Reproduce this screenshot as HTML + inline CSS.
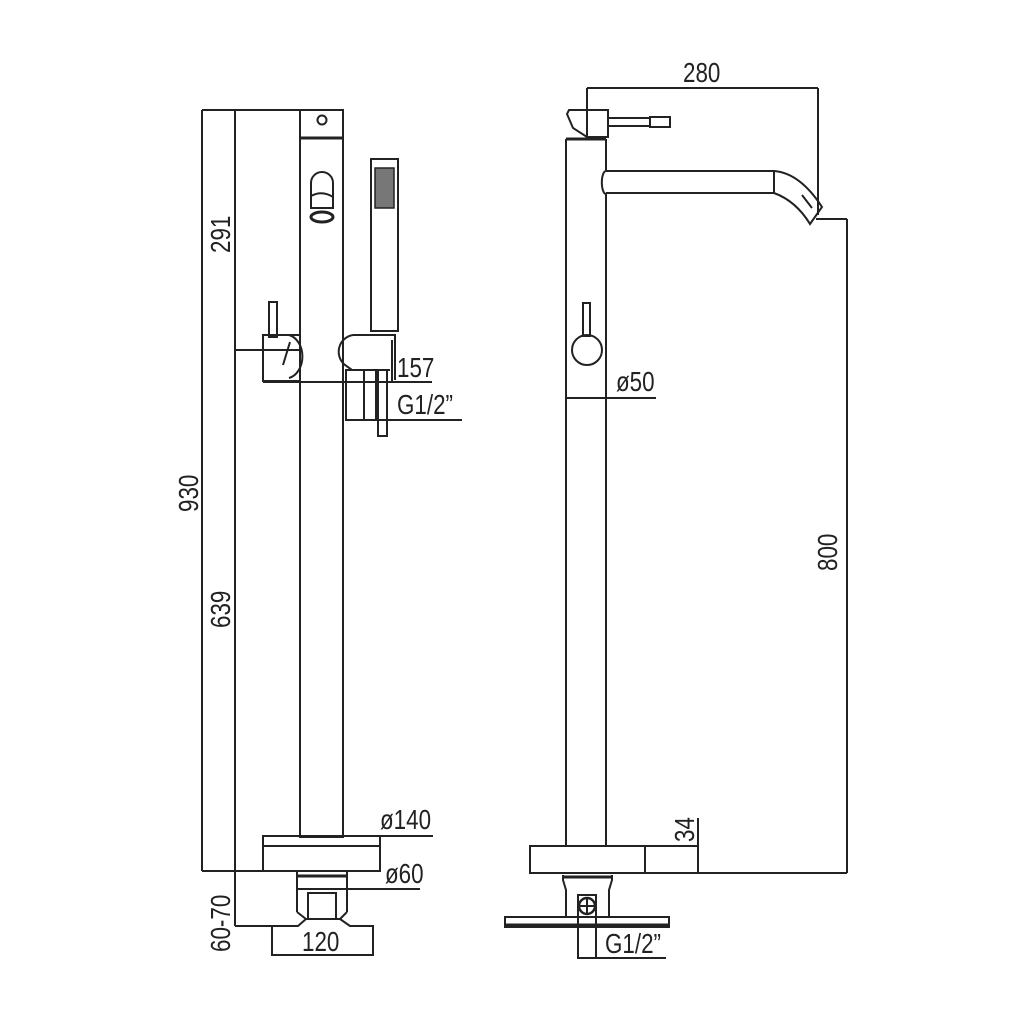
<!DOCTYPE html>
<html><head><meta charset="utf-8"><style>html,body{margin:0;padding:0;background:#fff}svg{display:block}text{fill:#222;stroke:none;font-size:28px}</style></head>
<body>
<svg width="1024" height="1024" viewBox="0 0 1024 1024" xmlns="http://www.w3.org/2000/svg" font-family="Liberation Sans, sans-serif" fill="none" stroke="#222" stroke-width="2">
<!-- LEFT VIEW dims -->
<line x1="202" y1="110" x2="343" y2="110"/>
<line x1="202" y1="110" x2="202" y2="871"/>
<line x1="235" y1="110" x2="235" y2="926"/>
<line x1="202" y1="871" x2="297" y2="871"/>
<line x1="235" y1="350" x2="300" y2="350"/>
<line x1="235" y1="926" x2="272" y2="926"/>
<!-- column -->
<rect x="300" y="110" width="43" height="727"/>
<line x1="300" y1="138" x2="343" y2="138" stroke-width="3"/>
<circle cx="322" cy="120" r="4.5"/>
<!-- spout oval -->
<path d="M311 208 V183 A11 11 0 0 1 333 183 V208 Z"/>
<path d="M311 196 Q322 190 333 197"/>
<ellipse cx="322" cy="217" rx="11" ry="5" stroke-width="3"/>
<!-- handle left -->
<rect x="269" y="302" width="8" height="35"/>
<rect x="263" y="335" width="37" height="46"/>
<path d="M289 335 A17 22 0 0 1 289 378"/>
<path d="M290 342 L283 365"/>
<!-- hand shower -->
<rect x="371" y="159" width="27" height="172"/>
<rect x="375" y="168" width="19" height="40" fill="#777" stroke-width="1.5"/>
<!-- holder -->
<path d="M353 335 H395 V380 M353 335 A17 17 0 0 0 345 365 L352 370 H390"/>
<rect x="346" y="370" width="18" height="50"/>
<rect x="364" y="370" width="12" height="50"/>
<rect x="378" y="370" width="9" height="66"/>
<line x1="263" y1="382" x2="432" y2="382"/>
<line x1="346" y1="420" x2="462" y2="420"/>
<line x1="392" y1="340" x2="392" y2="382"/>
<text transform="translate(397,377) scale(0.8,1)">157</text>
<text transform="translate(397,414) scale(0.8,1)">G1/2”</text>
<!-- base -->
<rect x="263" y="836" width="117" height="35"/>
<line x1="263" y1="846" x2="380" y2="846"/>
<line x1="380" y1="836" x2="433" y2="836"/>
<text transform="translate(380,829) scale(0.8,1)">ø140</text>
<path d="M297 871 V912 M347 871 V912"/>
<line x1="297" y1="876" x2="347" y2="876" stroke-width="3"/>
<line x1="297" y1="889" x2="420" y2="889"/>
<text transform="translate(385,883) scale(0.8,1)">ø60</text>
<rect x="308" y="893" width="28" height="26"/>
<path d="M297 912 L306 919 H340 L347 912 M306 919 L298 926 H272 V955 H373 V926 H350 L340 919"/>
<text transform="translate(302,951) scale(0.8,1)">120</text>
<!-- rotated labels -->
<text transform="translate(230,253) rotate(-90) scale(0.8,1)">291</text>
<text transform="translate(230,628) rotate(-90) scale(0.8,1)">639</text>
<text transform="translate(198,512) rotate(-90) scale(0.8,1)">930</text>
<text transform="translate(230,952) rotate(-90) scale(0.8,1)">60-70</text>

<!-- RIGHT VIEW -->
<line x1="587" y1="88" x2="818" y2="88"/>
<line x1="587" y1="88" x2="587" y2="140"/>
<line x1="818" y1="88" x2="818" y2="215"/>
<text transform="translate(683,82) scale(0.8,1)">280</text>
<!-- top handle -->
<path d="M569 110 H608 V137 H587 L573 128 L567 114 Z"/>
<rect x="608" y="118" width="42" height="8"/>
<rect x="650" y="117" width="20" height="10"/>
<line x1="566" y1="139" x2="606" y2="139" stroke-width="3"/>
<!-- column -->
<path d="M566 139 V846 M606 139 V170 M606 194 V846"/>
<!-- spout -->
<path d="M606 171 H774 Q800 173 822 207 L810 224 Q796 201 774 193 H606"/>
<path d="M606 171 A4 11 0 0 0 606 194" />
<line x1="774" y1="171" x2="774" y2="193"/>
<line x1="802" y1="195" x2="812" y2="208"/>
<line x1="816" y1="219" x2="847" y2="219"/>
<line x1="847" y1="219" x2="847" y2="873"/>
<text transform="translate(837,571) rotate(-90) scale(0.8,1)">800</text>
<!-- knob -->
<rect x="583" y="303" width="7" height="33"/>
<circle cx="587" cy="350" r="15"/>
<line x1="566" y1="398" x2="656" y2="398"/>
<text transform="translate(616,391) scale(0.8,1)">ø50</text>
<!-- base -->
<rect x="530" y="846" width="115" height="27"/>
<line x1="645" y1="846" x2="698" y2="846"/>
<line x1="645" y1="873" x2="847" y2="873"/>
<line x1="698" y1="818" x2="698" y2="873"/>
<text transform="translate(694,842) rotate(-90) scale(0.8,1)">34</text>
<path d="M563 875 V880 L566 890 V917 M612 875 V880 L609 890 V917"/>
<line x1="563" y1="877" x2="612" y2="877" stroke-width="3"/>
<rect x="505" y="917" width="164" height="10"/>
<line x1="505" y1="925" x2="669" y2="925" stroke-width="3"/>
<rect x="578" y="895" width="18" height="63"/>
<circle cx="587" cy="906" r="8" stroke-width="2.5"/>
<line x1="578" y1="906" x2="596" y2="906"/>
<line x1="587" y1="897" x2="587" y2="915"/>
<line x1="578" y1="958" x2="666" y2="958"/>
<text transform="translate(605,953) scale(0.8,1)">G1/2”</text>
</svg>
</body></html>
